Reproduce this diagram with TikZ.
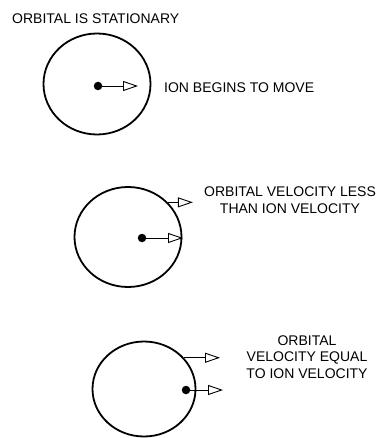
\documentclass[tikz,border=0pt]{standalone}
\usepackage{fontspec}
\setmainfont{Liberation Sans}
\usetikzlibrary{arrows.meta,shapes.geometric}

\tikzset{
  orbit/.style={draw,ellipse,line width=1.8pt,inner sep=0pt},
  ion/.style={circle,fill,inner sep=0pt,minimum size=8.5pt},
  vel/.style={-{Triangle[open,length=15pt,width=10pt]},line width=0.9pt},
  lbl/.style={align=center,font=\fontsize{14}{16.5}\selectfont,inner sep=0pt}
}

\begin{document}
\begin{tikzpicture}[x=1pt,y=-1pt]
\useasboundingbox (0,0) rectangle (377,438);
% stationary orbital
\node[lbl,anchor=west] (tA) at (12,19) {ORBITAL IS STATIONARY};
\node[orbit,minimum width=107pt,minimum height=101pt] (orbA) at (97,84) {};
\node[ion] (ionA) at (98,86) {};
\coordinate (vA) at (138,86);
\draw[vel] (ionA) -- (vA);
\node[lbl,anchor=west] (tB) at (164,88) {ION BEGINS TO MOVE};

% orbital slower than ion
\node[orbit,minimum width=107pt,minimum height=100pt] (orbB) at (128,237) {};
\node[ion] (ionB) at (142,238) {};
\coordinate (vB) at (183,238);
\draw[vel] (ionB) -- (vB);
\draw[vel] (orbB.41) -- ++(25,0);
\node[lbl] (tC) at (290,200) {ORBITAL VELOCITY LESS\\THAN ION VELOCITY};

% orbital equal to ion
\node[orbit,minimum width=103pt,minimum height=95pt] (orbC) at (144,389) {};
\node[ion] (ionC) at (186,390) {};
\coordinate (vC) at (223,390);
\draw[vel] (ionC) -- (vC);
\draw[vel] (orbC.38) -- ++(36,0);
\node[lbl] (tD) at (307,357) {ORBITAL\\VELOCITY EQUAL\\TO ION VELOCITY};
\end{tikzpicture}
\end{document}
